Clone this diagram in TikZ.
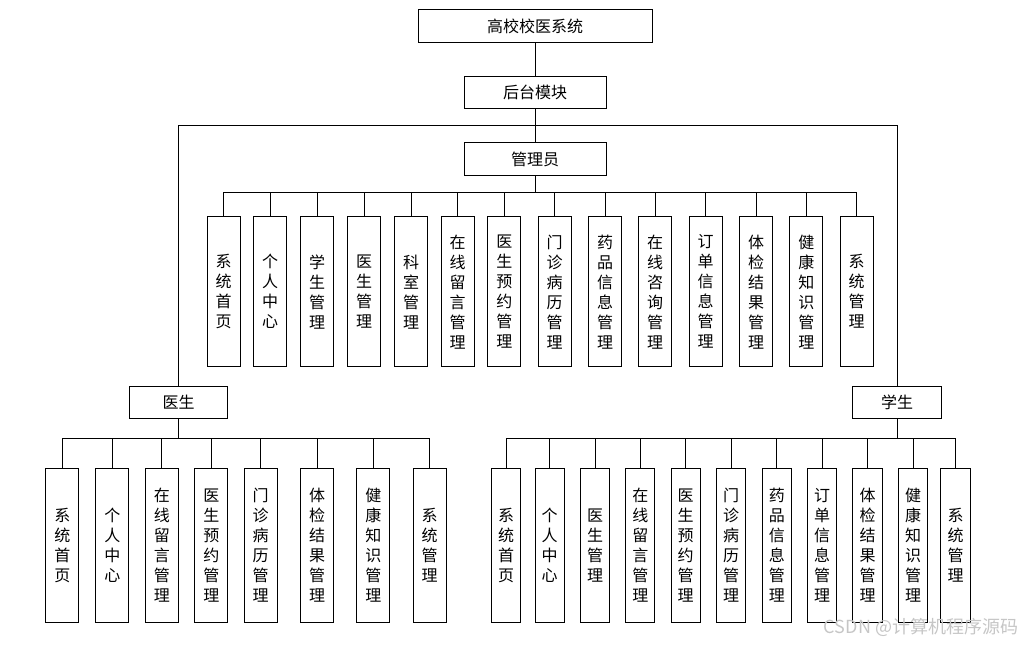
\documentclass[tikz,border=0pt]{standalone}
\usepackage{fontspec}
\setmainfont{Noto Sans CJK SC}
\usetikzlibrary{positioning}

\begin{document}
\begin{tikzpicture}
                [%%%%%%%%%%%%%%%%%%%%%%%%%%%%%%%%%%%%%%%%%%%%%%%%%%%%%%%%%%
                    x=0.75pt,y=-0.75pt,
                    box/.style={draw,line width=0.75pt,inner sep=0pt,
                                font=\fontsize{12}{15}\selectfont},
                    head/.style={box,minimum height=24.5pt},
                    leaf/.style={box,align=center},
                    aleaf/.style={leaf,minimum width=24.75pt,minimum height=112.5pt},
                    dleaf/.style={leaf,minimum width=24.5pt,minimum height=115.5pt},
                    sleaf/.style={leaf,minimum width=22pt,minimum height=115.5pt},
                    link/.style={draw,line width=0.75pt}
                ]%%%%%%%%%%%%%%%%%%%%%%%%%%%%%%%%%%%%%%%%%%%%%%%%%%%%%%%%%%
                \useasboundingbox (0,0) rectangle (1031,644);

                % top levels
                \node[head,minimum width=175.5pt] (top) at (535,26) {高校校医系统};
                \node[head,minimum width=106.5pt] (backend) at (535,92.5) {后台模块};
                \node[head,minimum width=106.5pt] (admin) at (535,159) {管理员};
                \node[head,minimum width=73.8pt] (doctor) at (178.5,402.5) {医生};
                \node[head,minimum width=67pt] (student) at (897,402.5) {学生};

                % admin modules
                \node[aleaf] (a1) at (223.7,291.7) {系\\统\\首\\页};
                \node[aleaf] (a2) at (270.2,291.7) {个\\人\\中\\心};
                \node[aleaf] (a3) at (317,291.7) {学\\生\\管\\理};
                \node[aleaf] (a4) at (364,291.7) {医\\生\\管\\理};
                \node[aleaf] (a5) at (411,291.7) {科\\室\\管\\理};
                \node[aleaf] (a6) at (457.7,291.7) {在\\线\\留\\言\\管\\理};
                \node[aleaf] (a7) at (504.3,291.7) {医\\生\\预\\约\\管\\理};
                \node[aleaf] (a8) at (554.7,291.7) {门\\诊\\病\\历\\管\\理};
                \node[aleaf] (a9) at (605,291.7) {药\\品\\信\\息\\管\\理};
                \node[aleaf] (a10) at (655.2,291.7) {在\\线\\咨\\询\\管\\理};
                \node[aleaf] (a11) at (705.7,291.7) {订\\单\\信\\息\\管\\理};
                \node[aleaf] (a12) at (756,291.7) {体\\检\\结\\果\\管\\理};
                \node[aleaf] (a13) at (806.3,291.7) {健\\康\\知\\识\\管\\理};
                \node[aleaf] (a14) at (856.7,291.7) {系\\统\\管\\理};

                % doctor modules
                \node[dleaf] (d1) at (62.3,545.3) {系\\统\\首\\页};
                \node[dleaf] (d2) at (112.3,545.3) {个\\人\\中\\心};
                \node[dleaf] (d3) at (161.8,545.3) {在\\线\\留\\言\\管\\理};
                \node[dleaf] (d4) at (211.3,545.3) {医\\生\\预\\约\\管\\理};
                \node[dleaf] (d5) at (260.7,545.3) {门\\诊\\病\\历\\管\\理};
                \node[dleaf] (d6) at (317,545.3) {体\\检\\结\\果\\管\\理};
                \node[dleaf] (d7) at (373.3,545.3) {健\\康\\知\\识\\管\\理};
                \node[dleaf] (d8) at (429.7,545.3) {系\\统\\管\\理};

                % student modules
                \node[sleaf] (s1) at (506,545.3) {系\\统\\首\\页};
                \node[sleaf] (s2) at (549.7,545.3) {个\\人\\中\\心};
                \node[sleaf] (s3) at (595,545.3) {医\\生\\管\\理};
                \node[sleaf] (s4) at (640.3,545.3) {在\\线\\留\\言\\管\\理};
                \node[sleaf] (s5) at (685.7,545.3) {医\\生\\预\\约\\管\\理};
                \node[sleaf] (s6) at (731.2,545.3) {门\\诊\\病\\历\\管\\理};
                \node[sleaf] (s7) at (776.8,545.3) {药\\品\\信\\息\\管\\理};
                \node[sleaf] (s8) at (822.2,545.3) {订\\单\\信\\息\\管\\理};
                \node[sleaf] (s9) at (867.5,545.3) {体\\检\\结\\果\\管\\理};
                \node[sleaf] (s10) at (913.2,545.3) {健\\康\\知\\识\\管\\理};
                \node[sleaf] (s11) at (955.5,545.3) {系\\统\\管\\理};

                \node[text=gray!45,font=\fontsize{13.5}{15}\selectfont] (mark) at (921,627) {CSDN @计算机程序源码};

                % connectors
                \coordinate (split) at (535,125);
                \coordinate (abus) at (535,192.7);
                \coordinate (dbus) at (178.5,438.3);
                \coordinate (sbus) at (897,438.3);

                \draw [link] (top) -- (backend);
                \draw [link] (backend) -- (admin);
                \draw [link] (split) -| (doctor);
                \draw [link] (split) -| (student);

                \draw [link] (admin.south) -- (abus);
                \draw [link] (abus) -| (a1.north);
                \draw [link] (abus) -| (a2.north);
                \draw [link] (abus) -| (a3.north);
                \draw [link] (abus) -| (a4.north);
                \draw [link] (abus) -| (a5.north);
                \draw [link] (abus) -| (a6.north);
                \draw [link] (abus) -| (a7.north);
                \draw [link] (abus) -| (a8.north);
                \draw [link] (abus) -| (a9.north);
                \draw [link] (abus) -| (a10.north);
                \draw [link] (abus) -| (a11.north);
                \draw [link] (abus) -| (a12.north);
                \draw [link] (abus) -| (a13.north);
                \draw [link] (abus) -| (a14.north);

                \draw [link] (doctor.south) -- (dbus);
                \draw [link] (dbus) -| (d1.north);
                \draw [link] (dbus) -| (d2.north);
                \draw [link] (dbus) -| (d3.north);
                \draw [link] (dbus) -| (d4.north);
                \draw [link] (dbus) -| (d5.north);
                \draw [link] (dbus) -| (d6.north);
                \draw [link] (dbus) -| (d7.north);
                \draw [link] (dbus) -| (d8.north);

                \draw [link] (student.south) -- (sbus);
                \draw [link] (sbus) -| (s1.north);
                \draw [link] (sbus) -| (s2.north);
                \draw [link] (sbus) -| (s3.north);
                \draw [link] (sbus) -| (s4.north);
                \draw [link] (sbus) -| (s5.north);
                \draw [link] (sbus) -| (s6.north);
                \draw [link] (sbus) -| (s7.north);
                \draw [link] (sbus) -| (s8.north);
                \draw [link] (sbus) -| (s9.north);
                \draw [link] (sbus) -| (s10.north);
                \draw [link] (sbus) -| (s11.north);
            \end{tikzpicture}
\end{document}
